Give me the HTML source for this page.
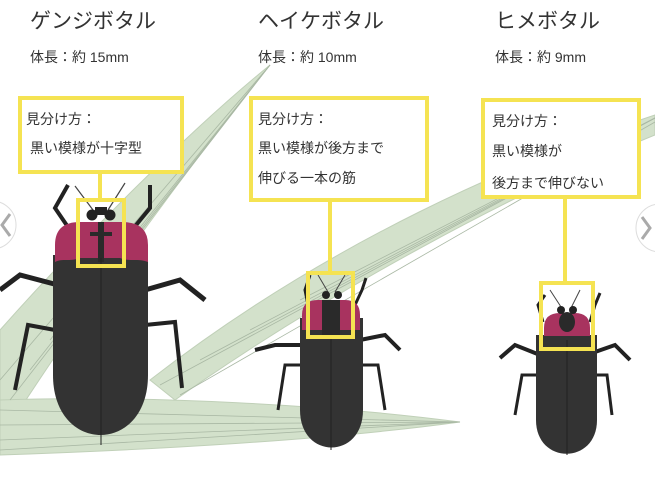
<!DOCTYPE html>
<html><head><meta charset="utf-8"><style>
html,body{margin:0;padding:0;background:#fff;width:655px;height:480px;overflow:hidden}
svg text{font-family:"Liberation Sans","Noto Sans CJK JP",sans-serif;fill:#333}
</style></head><body>
<svg width="655" height="480" viewBox="0 0 655 480" xmlns="http://www.w3.org/2000/svg">
<rect width="655" height="480" fill="#fff"/>
<!-- leaves -->
<g fill="#d3e1cb" stroke="#c0d0b8" stroke-width="1">
<path d="M270,65 C190,130 80,240 0,330 L0,440 C70,330 170,190 270,65Z"/>
<path d="M655,115 C520,160 330,240 150,380 L175,400 C330,290 520,190 655,135Z"/>
<path d="M0,400 C150,395 330,405 460,422 C330,440 150,450 0,455Z"/>
</g>
<g stroke="#a9b8a4" stroke-width="0.8" fill="none">
<path d="M270,65 L10,400"/><path d="M270,65 L30,370"/><path d="M270,65 L0,380"/><path d="M270,65 L50,340"/>
<path d="M655,118 L160,385"/><path d="M655,118 L200,360"/><path d="M655,118 L250,330"/><path d="M655,118 L300,300"/><path d="M655,122 L180,395"/>
<path d="M0,410 L460,422"/><path d="M0,425 L460,422"/><path d="M0,440 L460,422"/><path d="M0,450 L460,422"/>
</g>
<!-- titles -->
<text x="30" y="28" font-size="21">ゲンジボタル</text>
<text x="258" y="28" font-size="21">ヘイケボタル</text>
<text x="495" y="28" font-size="21">ヒメボタル</text>
<text x="30" y="62" font-size="14">体長：約 15mm</text>
<text x="258" y="62" font-size="14">体長：約 10mm</text>
<text x="495" y="62" font-size="14">体長：約 9mm</text>
<!-- boxes -->
<g fill="#fff" stroke="#f5e352" stroke-width="4">
<rect x="20" y="98" width="162" height="74"/>
<rect x="251" y="98" width="176" height="102"/>
<rect x="483" y="100" width="156" height="97"/>
</g>
<text x="26" y="124" font-size="14">見分け方：</text>
<text x="30" y="153" font-size="14">黒い模様が十字型</text>
<text x="258" y="124" font-size="14">見分け方：</text>
<text x="258" y="153" font-size="14">黒い模様が後方まで</text>
<text x="258" y="183" font-size="14">伸びる一本の筋</text>
<text x="492" y="126" font-size="14">見分け方：</text>
<text x="492" y="156" font-size="14">黒い模様が</text>
<text x="492" y="188" font-size="14">後方まで伸びない</text>
<!-- beetle 1 -->
<g stroke="#222" fill="none" stroke-linejoin="miter">
<path d="M58,285 L20,275 L0,290" stroke-width="5"/><path d="M55,330 L28,325 L15,390" stroke-width="4"/>
<path d="M145,290 L180,280 L205,300" stroke-width="5"/><path d="M145,325 L175,322 L182,388" stroke-width="4"/>
<path d="M70,230 L55,208 L68,185" stroke-width="4"/><path d="M132,230 L150,208 L150,185" stroke-width="4"/>
<path d="M93,210 L75,186 M108,210 L125,183" stroke-width="1.2" stroke="#444"/>
</g>
<path d="M53,255 L148,255 L148,375 C148,455 53,455 53,375Z" fill="#333"/>
<path d="M55,262 L55,245 Q55,222 80,222 L122,222 Q148,222 148,245 L148,262 C138,258 130,262 120,258 L80,258 C70,262 62,258 55,262Z" fill="#a8335f"/>
<rect x="98" y="222" width="6" height="40" fill="#2a2a2a"/><rect x="90" y="232" width="22" height="4" fill="#2a2a2a"/>
<circle cx="92" cy="215" r="5.5" fill="#222"/><circle cx="110" cy="215" r="5.5" fill="#222"/><rect x="95" y="207" width="12" height="8" fill="#222"/>
<line x1="101" y1="258" x2="101" y2="445" stroke="#222" stroke-width="1"/>
<!-- beetle 2 -->
<g stroke="#222" fill="none">
<path d="M302,345 L275,345 L255,350" stroke-width="4"/><path d="M300,365 L285,365 L278,410" stroke-width="3"/>
<path d="M360,340 L385,335 L400,350" stroke-width="4"/><path d="M360,365 L378,365 L385,410" stroke-width="3"/>
<path d="M308,305 L305,290 L310,275" stroke-width="3"/><path d="M355,305 L362,290 L366,278" stroke-width="3"/>
<path d="M328,292 L318,275 M335,292 L345,275" stroke-width="1" stroke="#444"/>
</g>
<path d="M300,318 L363,318 L363,410 C363,460 300,460 300,410Z" fill="#333"/>
<path d="M302,330 L302,315 Q302,300 318,300 L345,300 Q360,300 360,315 L360,330Z" fill="#a8335f"/>
<rect x="322" y="300" width="18" height="35" fill="#2a2a2a"/>
<circle cx="326" cy="295" r="4" fill="#222"/><circle cx="338" cy="295" r="4" fill="#222"/>
<line x1="331" y1="335" x2="331" y2="450" stroke="#222"/>
<!-- beetle 3 -->
<g stroke="#222" fill="none">
<path d="M540,355 L515,345 L500,358" stroke-width="4"/><path d="M537,375 L522,375 L515,415" stroke-width="3"/>
<path d="M595,352 L615,345 L630,360" stroke-width="4"/><path d="M595,375 L607,375 L612,415" stroke-width="3"/>
<path d="M543,322 L538,305 L545,295" stroke-width="3"/><path d="M590,322 L595,305 L600,293" stroke-width="3"/>
<path d="M563,310 L550,290 M570,310 L580,290" stroke-width="1" stroke="#444"/>
</g>
<path d="M536,335 L597,335 L597,420 C597,465 536,465 536,420Z" fill="#333"/>
<path d="M544,336 L544,328 Q544,313 560,313 L575,313 Q590,313 590,328 L590,336Z" fill="#a8335f"/>
<ellipse cx="567" cy="322" rx="8" ry="10" fill="#2a2a2a"/>
<circle cx="561" cy="310" r="4" fill="#222"/><circle cx="573" cy="310" r="4" fill="#222"/>
<line x1="567" y1="340" x2="567" y2="455" stroke="#222"/>
<!-- connectors and small boxes -->
<g fill="none" stroke="#f5e352" stroke-width="4">
<line x1="100" y1="172" x2="100" y2="200"/><rect x="78" y="200" width="46" height="66"/>
<line x1="330" y1="200" x2="330" y2="273"/><rect x="308" y="273" width="45" height="64"/>
<line x1="565" y1="197" x2="565" y2="283"/><rect x="541" y="283" width="52" height="66"/>
</g>
<!-- nav arrows -->
<circle cx="-8" cy="225" r="24" fill="#fff" stroke="#ddd"/><path d="M10,214 L2,225 L10,236" stroke="#aaa" stroke-width="3" fill="none"/>
<circle cx="660" cy="228" r="24" fill="#fff" stroke="#ddd"/><path d="M642,217 L650,228 L642,239" stroke="#aaa" stroke-width="3" fill="none"/>
</svg>
</body></html>
